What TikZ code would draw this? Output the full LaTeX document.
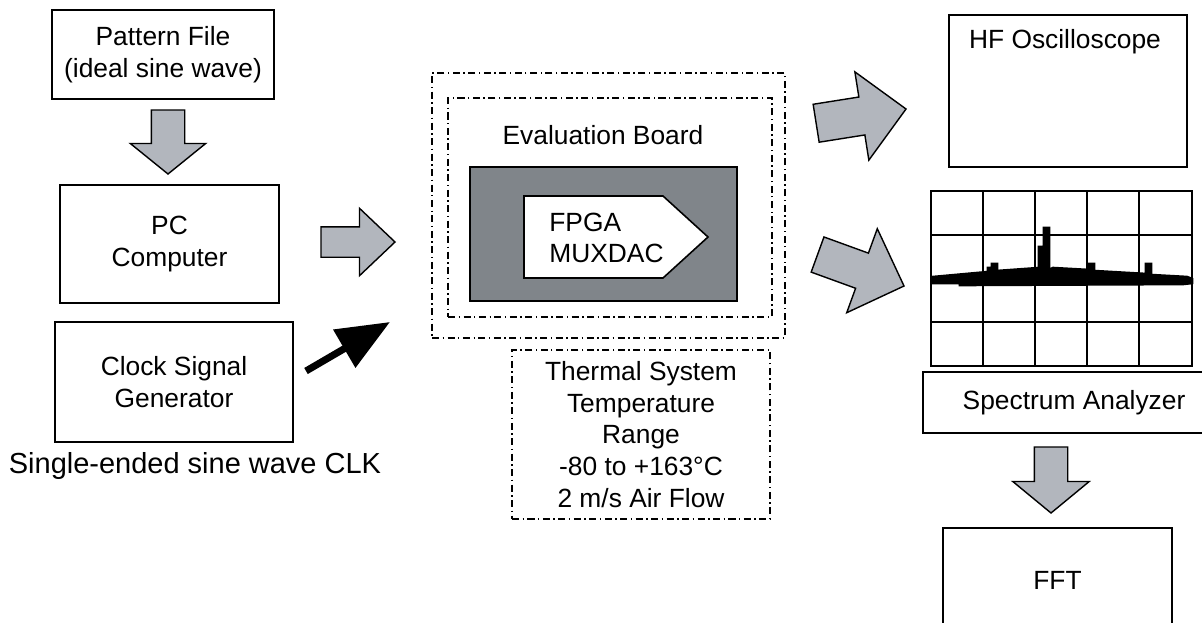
\documentclass[tikz,border=0pt]{standalone}
\usepackage{fontspec}
\setmainfont{Liberation Sans}
\usetikzlibrary{shapes.arrows, arrows.meta, positioning, calc}
\definecolor{arrowgray}{RGB}{178, 182, 189}
\definecolor{chipgray}{RGB}{128, 133, 138}

\tikzset{
  box/.style={draw, line width=0.9pt, inner sep=0pt, align=center},
  dashbox/.style={draw, line width=0.7pt, dash pattern=on 4pt off 2pt on 0.8pt off 2pt, inner sep=0pt, align=center},
  gridline/.style={line width=1.1pt},
  fatarrow/.style={single arrow, draw, fill=arrowgray, line width=0.8pt, inner xsep=0pt, outer sep=0pt, anchor=tip}
}

\begin{document}
\begin{tikzpicture}[x=0.02cm, y=-0.02cm, font=\fontsize{15}{18}\selectfont]
    \useasboundingbox (0,0) rectangle (1202,622);

    % sources
    \node[box, minimum width=4.44cm, minimum height=1.78cm] (pattern) at (163,54.5) {Pattern File\\(ideal sine wave)};
    \node[box, minimum width=4.38cm, minimum height=2.36cm] (pc) at (169.5,244) {PC\\Computer};
    \node[box, minimum width=4.76cm, minimum height=2.40cm] (clock) at (174,382) {Clock Signal\\Generator};
    \node[font=\fontsize{16.5}{20}\selectfont] (clklabel) at (195,466) {Single-ended sine wave CLK};

    % board and thermal chamber
    \node[dashbox, minimum width=7.06cm, minimum height=5.30cm] (chamber) at (608.5,205.5) {};
    \node[dashbox, minimum width=6.48cm, minimum height=4.38cm] (board) at (610,207.5) {};
    \node (boardlabel) at (603,135) {Evaluation Board};
    \node[draw, fill=chipgray, line width=0.9pt, minimum width=5.34cm, minimum height=2.68cm] (chip) at (603.5,234) {};
    \draw[fill=white, line width=0.9pt] (524,196) -- (663,196) -- (708,237) -- (663,278) -- (524,278) -- cycle;
    \node[anchor=west, align=left, inner sep=0pt] (fpga) at (549,238) {FPGA\\MUXDAC};
    \node[dashbox, minimum width=5.16cm, minimum height=3.38cm] (thermal) at (641,434.5) {Thermal System\\Temperature\\Range\\-80 to +163°C\\2 m/s Air Flow};

    % instruments
    \node[box, minimum width=4.76cm, minimum height=3.04cm] (scope) at (1068,91) {};
    \node (scopelabel) at (1065,42) {HF Oscilloscope};
    \draw[gridline] (931,191) rectangle (1192,366);
    \foreach \gx in {983,1035,1087,1139}
        \draw[gridline] (\gx,191) -- (\gx,366);
    \foreach \gy in {234.75,278.5,322.25}
        \draw[gridline] (931,\gy) -- (1192,\gy);
    \filldraw[line width=1.5pt, line join=miter] (933,277) -- (988,272) -- (988,268) -- (992,268) -- (992,264) -- (997,264) -- (997,271)
        -- (1039,268) -- (1039,247) -- (1044,247) -- (1044,228) -- (1049,228) -- (1049,270)
        -- (1053,268) -- (1089,270) -- (1089,264) -- (1094,264) -- (1094,271) -- (1146,274)
        -- (1146,264) -- (1151,264) -- (1151,275) -- (1187,277) -- (1192,279) -- (1192,283)
        -- (1183,284) -- (960,285) -- (960,283) -- (933,283) -- cycle;
    \node[box, minimum width=6.04cm, minimum height=1.22cm] (analyzer) at (1074,402.5) {Spectrum Analyzer};
    \node[box, minimum width=4.58cm, minimum height=2.08cm] (fft) at (1057.5,580) {FFT};

    % block arrows
    \node[fatarrow, rotate=-90, minimum height=1.28cm, inner ysep=0.32cm,
          single arrow head extend=0.42cm, single arrow tip angle=102] (a1) at (168,174) {};
    \node[fatarrow, minimum height=1.48cm, inner ysep=0.29cm,
          single arrow head extend=0.37cm, single arrow tip angle=87] (a2) at (395,242) {};
    \node[fatarrow, rotate=9, minimum height=1.82cm, inner ysep=0.37cm,
          single arrow head extend=0.51cm, single arrow tip angle=90] (a3) at (906,109) {};
    \node[fatarrow, rotate=-20, minimum height=1.84cm, inner ysep=0.36cm,
          single arrow head extend=0.52cm, single arrow tip angle=90] (a4) at (904,286) {};
    \node[fatarrow, rotate=-90, minimum height=1.32cm, inner ysep=0.32cm,
          single arrow head extend=0.43cm, single arrow tip angle=101] (a5) at (1051,513) {};

    % clock line
    \coordinate (clkout) at (306,371);
    \coordinate (clkin) at (390,322);
    \draw[line width=4pt, -{Triangle[length=1.06cm, width=0.85cm]}] (clkout) -- (clkin);
\end{tikzpicture}
\end{document}
